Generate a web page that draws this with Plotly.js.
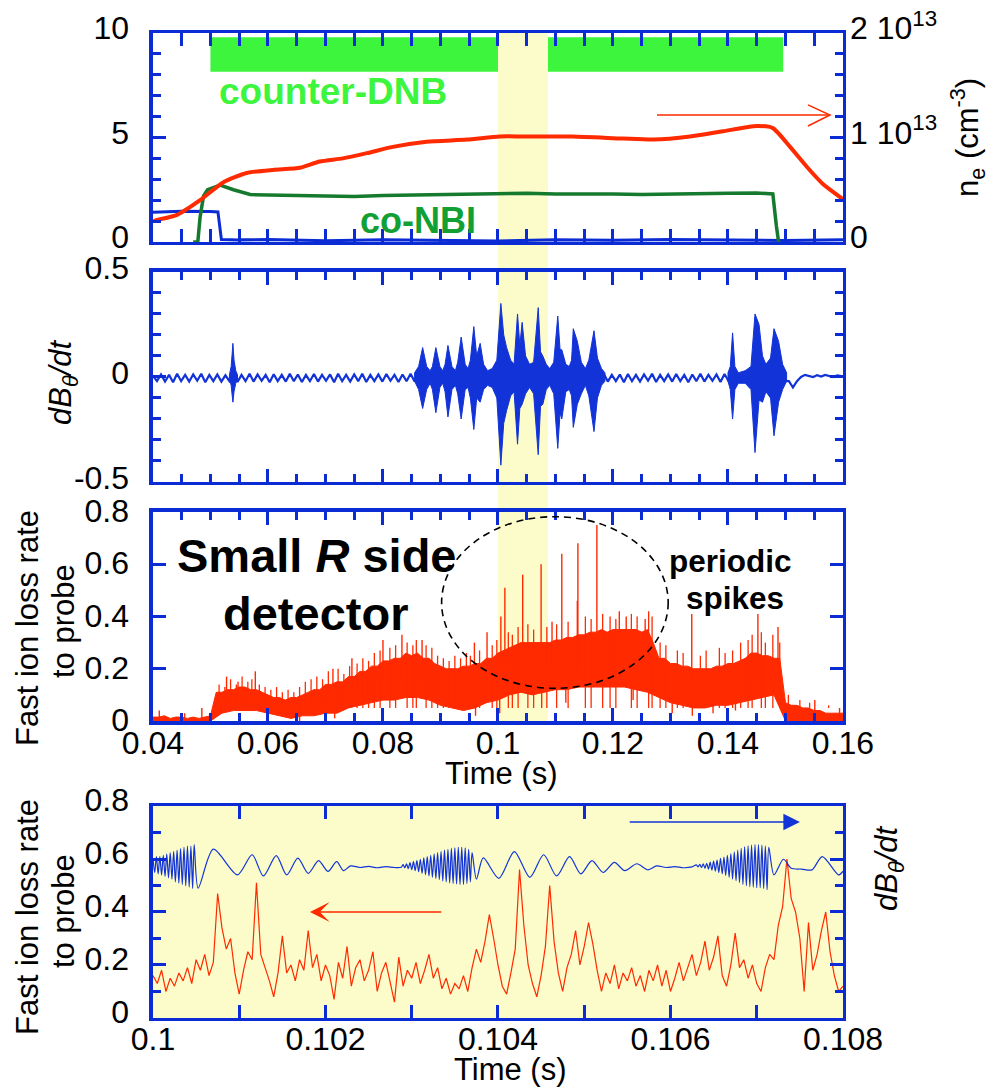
<!DOCTYPE html>
<html><head><meta charset="utf-8">
<script src="https://cdn.plot.ly/plotly-3.0.1.min.js"></script>
<style>html,body{margin:0;padding:0;background:#fff;}#chart{width:990px;height:1087px;}</style>
</head><body><div id="chart"></div>
<script>
// ---------------- DATA ----------------
// Panel 1 : beams and density
const dnbStart = [0.0500, 0.1087];
const dnbEnd   = [0.1000, 0.1496];
const dnbLevel = [8.15, 9.8];
const tBlue1 = [0.04,0.045,0.05,0.0513,0.0519,0.055,0.06,0.065,0.07,0.08,0.09,0.1,0.11,0.12,0.13,0.14,0.15,0.16];
const vBlue1 = [1.42,1.47,1.46,1.44,0.12,0.1,0.12,0.08,0.06,0.1,0.08,0.05,0.1,0.08,0.12,0.08,0.07,0.1];
const tNbi = [0.047,0.0478,0.0482,0.0488,0.0495,0.0505,0.0517,0.054,0.0569,0.06,0.065,0.07,0.075,0.08,0.085,0.09,0.095,0.1,0.105,0.11,0.115,0.12,0.125,0.13,0.135,0.14,0.145,0.1478,0.1484,0.1488];
const vNbi = [0,0,1.2,2.2,2.5,2.62,2.72,2.5,2.27,2.25,2.22,2.2,2.18,2.22,2.25,2.26,2.28,2.32,2.33,2.3,2.32,2.3,2.27,2.3,2.32,2.33,2.34,2.3,0.8,0];
const tNe = [0.0401,0.0407,0.0442,0.0482,0.0522,0.0563,0.0609,0.0656,0.069,0.073,0.0772,0.0817,0.0876,0.0946,0.1003,0.1044,0.113,0.1217,0.127,0.1334,0.1391,0.145,0.1478,0.1508,0.1537,0.1566,0.1595,0.16];
const neE13 = [0.20,0.21,0.26,0.40,0.57,0.66,0.69,0.71,0.77,0.80,0.85,0.91,0.96,0.98,1.01,1.01,1.01,0.99,0.98,1.01,1.06,1.11,1.09,0.91,0.72,0.55,0.43,0.41];

// Panel 2 : dB/dt  (baseline sampled every 0.7 ms from 0.04 s)
const dbBaseT0 = 0.04, dbBaseDt = 0.0007;
const dbBase = [
 0.005,-0.02,0.012,-0.022,0.01,-0.025,0.015,-0.02,0.01,-0.022,0.012,-0.018,0.015,-0.025,0.01,-0.02,0.012,-0.022,0.008,-0.02,
 0.012,-0.024,0.01,-0.02,0.015,-0.022,0.012,-0.018,0.01,-0.025,0.013,-0.02,0.01,-0.022,0.015,-0.02,0.012,-0.024,0.01,-0.02,
 0.014,-0.022,0.01,-0.018,0.012,-0.025,0.015,-0.02,0.01,-0.022,0.012,-0.02,0.015,-0.024,0.01,-0.02,0.012,-0.022,0.014,-0.018,
 0.01,-0.024,0.012,-0.02,0.015,-0.022,0.01,-0.02,0.012,-0.025,0.014,-0.02,0.01,-0.022,0.012,-0.018,0.015,-0.024,0.01,-0.02,
 0.012,-0.022,0.015,-0.02,0.01,-0.025,0.012,-0.02,0.014,-0.022,0.01,-0.018,0.012,-0.024,0.015,-0.02,0.01,-0.022,0.012,-0.02,
 0.015,-0.025,0.01,-0.02,0.012,-0.022,0.014,-0.018,0.01,-0.024,0.012,-0.02,0.015,-0.022,0.01,-0.02,0.012,-0.025,0.014,-0.02,
 0.01,-0.022,0.012,-0.018,0.015,-0.024,0.01,-0.02,0.012,-0.022,0.014,-0.02,0.01,-0.025,0.012,-0.02,0.015,-0.022,0.01,-0.018,
 0.012,-0.024,0.014,-0.02,0.01,-0.022,0.012,-0.02,0.015,-0.025,0.01,-0.02,0.012,-0.022,0.014,-0.018,0.01,-0.02,-0.02,-0.05,
 -0.02,0.0,0.01,0.004,0.0,0.008,0.002,0.01,0.004,0.0,0.008,0.004];
// burst envelopes (groups separated by null)
const burstT = [
 0.0533,0.0536,0.0538,0.0539,0.0541,0.0544,0.0547, null,
 0.0855,0.0862,0.0869,0.0876,0.0882,0.0886,0.0892,0.0899,0.0904,0.0908,0.0913,0.0920,0.0926,0.0930,0.0936,0.0943,0.0948,0.0952,0.0958,0.0963,0.0969,0.0975,0.0982,0.0990,0.0998,0.1005,0.1010,0.1015,0.1022,0.1028,0.1034,0.1038,0.1042,0.1048,0.1055,0.1062,0.1070,0.1074,0.1078,0.1084,0.1090,0.1097,0.1104,0.1108,0.1111,0.1118,0.1124,0.1128,0.1131,0.1138,0.1145,0.1152,0.1158,0.1167,0.1173,0.1180,0.1186, null,
 0.1400,0.1404,0.1408,0.1412,0.1418,0.1430,0.1440,0.1447,0.1454,0.1460,0.1466,0.1474,0.1480,0.1488,0.1495,0.1502];
const burstHi = [
 0.01,0.05,0.12,0.16,0.08,0.03,0.01, null,
 0.02,0.05,0.14,0.05,0.03,0.05,0.14,0.05,0.03,0.06,0.15,0.05,0.03,0.07,0.19,0.06,0.04,0.08,0.24,0.10,0.16,0.06,0.03,0.04,0.08,0.35,0.20,0.14,0.08,0.06,0.30,0.15,0.26,0.10,0.06,0.07,0.33,0.12,0.10,0.06,0.04,0.07,0.29,0.13,0.13,0.06,0.05,0.08,0.23,0.17,0.07,0.04,0.08,0.22,0.09,0.04,0.02, null,
 0.02,0.05,0.21,0.05,0.02,0.03,0.05,0.30,0.25,0.10,0.06,0.09,0.23,0.17,0.06,0.02];
const burstLo = [
 -0.01,-0.04,-0.09,-0.12,-0.07,-0.03,-0.01, null,
 -0.02,-0.06,-0.15,-0.06,-0.03,-0.06,-0.17,-0.05,-0.03,-0.07,-0.19,-0.06,-0.04,-0.08,-0.20,-0.06,-0.05,-0.10,-0.25,-0.10,-0.12,-0.06,-0.04,-0.05,-0.10,-0.42,-0.22,-0.16,-0.09,-0.07,-0.32,-0.15,-0.13,-0.08,-0.05,-0.08,-0.37,-0.14,-0.13,-0.06,-0.04,-0.08,-0.34,-0.17,-0.20,-0.07,-0.06,-0.09,-0.24,-0.13,-0.08,-0.04,-0.09,-0.26,-0.10,-0.04,-0.02, null,
 -0.02,-0.06,-0.20,-0.06,-0.03,-0.03,-0.06,-0.36,-0.11,-0.12,-0.07,-0.10,-0.28,-0.12,-0.06,-0.02];

// Panel 3 : fast ion loss (envelopes + spikes)
const lossUpT0 = 0.04, lossUpDt = 0.001;
const lossUpper = [
 0.015,0.015,0.02,0.01,0.015,0.015,0.01,0.015,0.01,0.015,
 0.02,0.11,0.11,0.12,0.12,0.13,0.13,0.12,0.12,0.11,
 0.10,0.09,0.09,0.08,0.09,0.09,0.10,0.11,0.12,0.12,
 0.14,0.14,0.15,0.15,0.17,0.17,0.19,0.19,0.21,0.21,
 0.23,0.23,0.24,0.24,0.26,0.25,0.26,0.24,0.24,0.22,
 0.21,0.20,0.20,0.20,0.21,0.21,0.22,0.22,0.24,0.24,
 0.26,0.27,0.28,0.29,0.30,0.30,0.30,0.30,0.30,0.30,
 0.31,0.31,0.32,0.32,0.33,0.33,0.34,0.34,0.35,0.34,
 0.35,0.35,0.35,0.35,0.35,0.34,0.35,0.30,0.24,0.24,
 0.22,0.22,0.21,0.21,0.20,0.20,0.20,0.20,0.21,0.21,
 0.22,0.22,0.23,0.24,0.26,0.26,0.25,0.25,0.24,0.24,
 0.07,0.06,0.06,0.05,0.05,0.04,0.04,0.03,0.03,0.03,0.03];
const lossLoT0 = 0.04, lossLoDt = 0.002;
const lossLower = [
 0,0,0,0,0,0,0.03,0.04,0.04,0.04,
 0.03,0.02,0.01,0.02,0.02,0.03,0.03,0.05,0.06,0.07,
 0.08,0.08,0.09,0.09,0.08,0.06,0.05,0.04,0.05,0.07,
 0.08,0.10,0.11,0.10,0.11,0.12,0.12,0.13,0.13,0.13,
 0.13,0.13,0.12,0.11,0.09,0.07,0.06,0.05,0.05,0.06,
 0.06,0.07,0.08,0.09,0.10,0,0,0,0,0,0];
// tall spikes and downward dips
const spikeT    = [0.0411,0.0455,0.0485,0.0528,0.0548,0.0578,0.0713,0.0746,0.0800,0.0833,0.0868,0.0959,0.0981,0.1005,0.1012,0.1043,0.1075,0.1094,0.1111,0.1138,0.1139,0.1172,0.1211,0.1223,0.1256,0.1337,0.1452,0.1487,0.1551,0.1594,
                   0.0598,0.0655,0.0716,0.0961,0.1003,0.1076,0.1118,0.1235,0.1303,0.1338,0.1374,0.1413];
const spikeFrom = [0,0,0,0.08,0.08,0.08,0.1,0.12,0.15,0.15,0.15,0.15,0.15,0.2,0.2,0.2,0.2,0.2,0.2,0.2,0.2,0.2,0.2,0.2,0.2,0.15,0.15,0.15,0.03,0.02,
                   0.05,0.05,0.05,0.08,0.10,0.12,0.13,0.14,0.08,0.07,0.07,0.08];
const spikeTo   = [0.04,0.03,0.05,0.17,0.15,0.19,0.20,0.24,0.31,0.33,0.31,0.30,0.34,0.40,0.51,0.56,0.60,0.38,0.64,0.46,0.68,0.75,0.42,0.40,0.39,0.41,0.41,0.36,0.08,0.05,
                   0.0,0.0,0.01,0.02,0.03,0.05,0.07,0.08,0.03,0.02,0.03,0.04];
// short noise hairs along the upper edge
const hairT = [0.0515,0.0525,0.0535,0.0545,0.0555,0.0565,0.0572,0.0585,0.0595,0.0605,0.0615,0.0625,0.0635,0.0645,0.0655,0.0665,0.0675,0.0685,0.0695,0.0705,
               0.0722,0.0732,0.0742,0.0755,0.0765,0.0775,0.0785,0.0795,0.0812,0.0822,0.0842,0.0852,0.0858,0.0875,0.0885,0.0895,0.0905,0.0915,0.0925,0.0935,
               0.0945,0.0952,0.0968,0.0990,0.0998,0.1018,0.1025,0.1035,0.1052,0.1062,0.1085,0.1102,0.1122,0.1152,0.1162,0.1182,0.1195,0.1205,0.1232,0.1242,
               0.1262,0.1268,0.1282,0.1292,0.1312,0.1322,0.1352,0.1362,0.1385,0.1395,0.1408,0.1422,0.1435,0.1442,0.1458,0.1465,0.1478,0.1490,0.1505,0.1525,0.1542,0.1575];
const hairTo = [0.14,0.13,0.16,0.14,0.17,0.15,0.16,0.14,0.13,0.12,0.13,0.11,0.12,0.11,0.13,0.15,0.16,0.17,0.16,0.19,
                0.20,0.18,0.21,0.22,0.24,0.23,0.26,0.27,0.28,0.29,0.30,0.29,0.31,0.29,0.28,0.25,0.24,0.23,0.25,0.24,
                0.26,0.25,0.27,0.29,0.31,0.34,0.33,0.36,0.37,0.35,0.36,0.37,0.38,0.40,0.39,0.41,0.40,0.39,0.41,0.40,
                0.42,0.40,0.30,0.29,0.27,0.26,0.25,0.27,0.28,0.26,0.27,0.30,0.31,0.33,0.34,0.30,0.33,0.30,0.10,0.08,0.07,0.06];

// Panel 4 : zoom 0.100 - 0.108 s
const loss4T0 = 0.1, loss4Dt = 0.00005;
const loss4 = [
 0.16,0.13,0.18,0.10,0.15,0.12,0.17,0.14,0.19,0.13,
 0.22,0.18,0.24,0.16,0.21,0.47,0.34,0.26,0.30,0.17,
 0.09,0.18,0.25,0.22,0.51,0.24,0.19,0.14,0.08,0.17,
 0.31,0.17,0.20,0.14,0.22,0.18,0.33,0.19,0.24,0.14,
 0.20,0.16,0.07,0.21,0.15,0.27,0.12,0.19,0.22,0.14,
 0.18,0.25,0.10,0.17,0.21,0.13,0.06,0.23,0.12,0.18,
 0.15,0.21,0.13,0.18,0.24,0.15,0.19,0.11,0.15,0.09,
 0.13,0.11,0.16,0.10,0.19,0.26,0.21,0.29,0.39,0.30,
 0.20,0.12,0.09,0.17,0.26,0.56,0.35,0.20,0.13,0.08,
 0.16,0.27,0.50,0.29,0.17,0.10,0.19,0.24,0.33,0.20,
 0.27,0.36,0.28,0.18,0.10,0.17,0.13,0.20,0.11,0.17,
 0.14,0.19,0.12,0.16,0.10,0.18,0.14,0.20,0.12,0.18,
 0.10,0.15,0.21,0.14,0.19,0.24,0.16,0.21,0.29,0.18,
 0.23,0.31,0.16,0.12,0.20,0.32,0.19,0.22,0.15,0.20,
 0.13,0.10,0.19,0.24,0.22,0.35,0.42,0.60,0.45,0.40,
 0.30,0.10,0.36,0.18,0.24,0.33,0.40,0.25,0.16,0.10,0.12];
// dB/dt in panel 4: fast bursts (sampled every 20 us) and slow wave (peaks / troughs)
const fastDt = 0.00002;
const fast1T0 = 0.1;
const fast1 = [0.03,-0.025,0.035,-0.03,0.035,-0.035,0.04,-0.04,0.045,-0.045,0.05,-0.05,0.055,-0.06,0.06,-0.065,0.065,-0.07,0.07,-0.075,0.075,-0.08,0.075,-0.085];
const slow1T = [0.100478,0.100524,0.1007,0.10098,0.10115,0.10128,0.10143,0.10155,0.10168,0.1018,0.10192,0.10203,0.10213,0.10221,0.10229,0.1024,0.1025,0.1026,0.1027,0.1028];
const slow1V = [0.08,-0.084,0.063,-0.034,0.042,-0.038,0.039,-0.034,0.029,-0.028,0.02,-0.021,0.016,-0.018,0.0,-0.006,-0.002,-0.007,-0.003,-0.006];
const fast2T0 = 0.10288;
const fast2 = [-0.005,0.005,-0.007,0.008,-0.01,0.012,-0.014,0.016,-0.018,0.02,-0.022,0.025,-0.028,0.03,-0.033,0.035,-0.038,0.04,-0.043,0.045,-0.048,0.05,-0.052,0.055,-0.057,0.06,-0.06,0.062,-0.064,0.066,-0.066,0.068,-0.068,0.07,-0.07,0.07,-0.07,0.068,-0.066,0.062,-0.06,0.05];
const slow2T = [0.10375,0.10383,0.10401,0.10419,0.10437,0.10453,0.10468,0.10483,0.10496,0.10509,0.10522,0.10535,0.10547,0.10561,0.10574,0.10584,0.10595,0.10605,0.10615,0.10625];
const slow2V = [-0.05,0.03,-0.047,0.054,-0.043,0.042,-0.038,0.035,-0.03,0.02,-0.025,0.013,-0.018,0.008,-0.015,0.0,-0.006,-0.003,-0.007,-0.004];
const fast3T0 = 0.1063;
const fast3 = [0.004,-0.004,0.006,-0.006,0.008,-0.009,0.01,-0.012,0.014,-0.016,0.018,-0.02,0.022,-0.025,0.028,-0.03,0.033,-0.036,0.04,-0.043,0.046,-0.05,0.053,-0.056,0.06,-0.063,0.066,-0.07,0.072,-0.075,0.076,-0.078,0.078,-0.08,0.08,-0.082,0.08,-0.082,0.078,-0.085,0.075,-0.09,0.07];
const slow3T = [0.1072,0.10731,0.1074,0.10752,0.10764,0.10776,0.10795,0.108];
const slow3V = [-0.034,0.025,-0.009,-0.012,-0.015,0.035,-0.034,-0.02];

// Tick labels
const tickT1 = [0.04,0.06,0.08,0.1,0.12,0.14,0.16];
const tickT1Text = ['0.04','0.06','0.08','0.1','0.12','0.14','0.16'];
const tickT4 = [0.1,0.102,0.104,0.106,0.108];
const tickT4Text = ['0.1','0.102','0.104','0.106','0.108'];
const tickLoss = [0,0.2,0.4,0.6,0.8];
const tickLossText = ['0','0.2','0.4','0.6','0.8'];

// ---------------- STYLE ----------------
const FONT = '"Liberation Sans", Arial, Helvetica, sans-serif';
const AX = '#0b2cd4', SIG = '#1233d8', RED = '#ff2a00', BAR = '#3cf53c', DKG = '#157a2e', NBI_TXT = '#12a034', YEL = '#fbfcca';
const DX = [0.1545, 0.8515];
const Y1 = [0.7774, 0.9696], Y2 = [0.5566, 0.7498], Y3 = [0.3367, 0.5290], Y4 = [0.0635, 0.2585];

// ---------------- BUILD ----------------
function seq(t0, dt, n){ const a=[]; for(let i=0;i<n;i++) a.push(+(t0+i*dt).toFixed(7)); return a; }
const dnbX=[], dnbY=[];
dnbStart.forEach((s,k)=>{ const e=dnbEnd[k]; dnbX.push(s,e,e,s,s,null); dnbY.push(dnbLevel[0],dnbLevel[0],dnbLevel[1],dnbLevel[1],dnbLevel[0],null); });
const bX=[], bY=[]; let gT=[], gH=[], gL=[];
function flush(){ if(!gT.length) return; bX.push(...gT, ...gT.slice().reverse(), gT[0], null); bY.push(...gH, ...gL.slice().reverse(), gH[0], null); gT=[];gH=[];gL=[]; }
burstT.forEach((t,i)=>{ if(t===null){flush();} else {gT.push(t); gH.push(burstHi[i]); gL.push(burstLo[i]);} }); flush();
const sX=[], sY=[];
spikeT.forEach((t,i)=>{ sX.push(t,t,null); sY.push(spikeFrom[i],spikeTo[i],null); });
const hX=[], hY=[];
hairT.forEach((t,i)=>{ hX.push(t,t,null); hY.push(Math.min(0.05,hairTo[i]),hairTo[i],null); });
const wT = [...seq(fast1T0,fastDt,fast1.length), ...slow1T, ...seq(fast2T0,fastDt,fast2.length), ...slow2T, ...seq(fast3T0,fastDt,fast3.length), ...slow3T];
const wV = [...fast1, ...slow1V, ...fast2, ...slow2V, ...fast3, ...slow3V];

const traces = [
 {x:dnbX, y:dnbY, xaxis:'x', yaxis:'y', mode:'lines', fill:'toself', fillcolor:BAR, line:{width:0,color:BAR}, hoverinfo:'skip'},
 {x:tBlue1, y:vBlue1, xaxis:'x', yaxis:'y', mode:'lines', line:{color:AX,width:3}},
 {x:tNbi, y:vNbi, xaxis:'x', yaxis:'y', mode:'lines', line:{color:DKG,width:3.5}},
 {x:tNe, y:neE13, xaxis:'x', yaxis:'y2', mode:'lines', line:{color:RED,width:4,shape:'spline',smoothing:0.6}},
 {x0:dbBaseT0, dx:dbBaseDt, y:dbBase, xaxis:'x2', yaxis:'y3', mode:'lines', line:{color:SIG,width:2.2}},
 {x:bX, y:bY, xaxis:'x2', yaxis:'y3', mode:'lines', fill:'toself', fillcolor:SIG, line:{color:SIG,width:1}},
 {x0:lossLoT0, dx:lossLoDt, y:lossLower, xaxis:'x3', yaxis:'y4', mode:'lines', line:{color:RED,width:1}},
 {x0:lossUpT0, dx:lossUpDt, y:lossUpper, xaxis:'x3', yaxis:'y4', mode:'lines', fill:'tonexty', fillcolor:RED, line:{color:RED,width:1}},
 {x:hX, y:hY, xaxis:'x3', yaxis:'y4', mode:'lines', line:{color:RED,width:1.3}},
 {x:sX, y:sY, xaxis:'x3', yaxis:'y4', mode:'lines', line:{color:RED,width:1.4}},
 {x0:loss4T0, dx:loss4Dt, y:loss4, xaxis:'x4', yaxis:'y5', mode:'lines', line:{color:RED,width:1.2}},
 {x:wT, y:wV, xaxis:'x4', yaxis:'y6', mode:'lines', line:{color:SIG,width:1.2,shape:'spline',smoothing:0.8}}
];

const TF = {family:FONT, size:32, color:'#000'};
function minor(t0,dt){ return {ticks:'inside', tickmode:'linear', tick0:t0, dtick:dt, ticklen:8, tickwidth:3, tickcolor:AX}; }
function frame(o){ return Object.assign({showline:true, linecolor:AX, linewidth:3.5, mirror:'allticks', ticks:'inside', tickcolor:AX, tickwidth:3, ticklen:13,
  showgrid:false, zeroline:false, automargin:false, fixedrange:true, tickfont:TF, tickmode:'array'}, o); }
function lbl(x, y, text, size, angle, extra){ return Object.assign({xref:'paper', yref:'paper', x:x/990, y:1-y/1087, text:text, showarrow:false,
  xanchor:'center', yanchor:'middle', textangle:angle||0, font:{family:FONT,size:size,color:'#000'}}, extra||{}); }
function note(xr, yr, x, y, text, size, color){ return {xref:xr, yref:yr, x:x, y:y, text:text, showarrow:false, xanchor:'center', yanchor:'middle', font:{family:FONT,size:size,color:color}}; }

const layout = {
 width:990, height:1087, margin:{l:0,r:0,t:0,b:0}, paper_bgcolor:'#fff', plot_bgcolor:'rgba(0,0,0,0)', showlegend:false,
 font:{family:FONT, color:'#000'},
 xaxis: frame({domain:DX, range:[0.04,0.16], anchor:'y', tickvals:tickT1, showticklabels:false, minor:minor(0.04,0.005)}),
 yaxis: frame({domain:Y1, range:[0,10], anchor:'x', tickvals:[0,5,10], ticktext:['0','5','10'], ticklabelstandoff:14, ticklabelshift:-5, minor:minor(0,1)}),
 yaxis2:{overlaying:'y', side:'right', anchor:'x', range:[0,2], tickmode:'array', tickvals:[0,1,2], ticktext:['0','1 10<sup>13</sup>','2 10<sup>13</sup>'],
   ticks:'', showline:false, showgrid:false, zeroline:false, tickfont:TF, ticklabelstandoff:6, ticklabelshift:-5, automargin:false, fixedrange:true},
 xaxis2: frame({domain:DX, range:[0.04,0.16], anchor:'y3', tickvals:tickT1, showticklabels:false, minor:minor(0.04,0.005)}),
 yaxis3: frame({domain:Y2, range:[-0.5,0.5], anchor:'x2', tickvals:[-0.5,0,0.5], ticktext:['-0.5','0','0.5'], ticklabelstandoff:14, ticklabelshift:-4, minor:minor(-0.5,0.1)}),
 xaxis3: frame({domain:DX, range:[0.04,0.16], anchor:'y4', tickvals:tickT1, ticktext:tickT1Text, ticklabelstandoff:-9, minor:minor(0.04,0.005)}),
 yaxis4: frame({domain:Y3, range:[0,0.8], anchor:'x3', tickvals:tickLoss, ticktext:tickLossText, ticklabelstandoff:14, ticklabelshift:-1}),
 xaxis4: frame({domain:DX, range:[0.1,0.108], anchor:'y5', tickvals:tickT4, ticktext:tickT4Text, ticklabelstandoff:-10, minor:minor(0.1,0.001)}),
 yaxis5: frame({domain:Y4, range:[0,0.8], anchor:'x4', tickvals:tickLoss, ticktext:tickLossText, ticklabelstandoff:14, ticklabelshift:-6, minor:minor(0,0.1)}),
 yaxis6: {overlaying:'y5', side:'right', anchor:'x4', range:[-0.574,0.226], showticklabels:false, ticks:'', showline:false, showgrid:false, zeroline:false, fixedrange:true, automargin:false},
 shapes: [
  {type:'rect', xref:'x', yref:'paper', x0:0.1, x1:0.1087, y0:Y3[0], y1:Y1[1], fillcolor:YEL, line:{width:0}, layer:'below'},
  {type:'rect', xref:'x4 domain', yref:'y5 domain', x0:0, x1:1, y0:0, y1:1, fillcolor:YEL, line:{width:0}, layer:'below'},
  {type:'circle', xref:'x3', yref:'y4', x0:0.0902, x1:0.1296, y0:0.125, y1:0.782, line:{color:'#000', width:1.6, dash:'7px,5px'}},
  {type:'line', xref:'x', yref:'y', x0:0.12765, x1:0.15774, y0:6.08, y1:6.08, line:{color:RED, width:1.5}},
  {type:'path', xref:'x', yref:'y', path:'M0.15391,6.56 L0.15774,6.08 L0.15391,5.55', line:{color:RED, width:1.5}}
 ],
 annotations: [
  note('x','y',0.0713,7.18,'<b>counter-DNB</b>',37,BAR),
  note('x','y',0.0861,1.05,'<b>co-NBI</b>',36,NBI_TXT),
  note('x3','y4',0.0685,0.635,'<b>Small <i>R</i> side</b>',47,'#000'),
  note('x3','y4',0.0683,0.413,'<b>detector</b>',47,'#000'),
  note('x3','y4',0.1405,0.612,'<b>periodic</b>',31.5,'#000'),
  note('x3','y4',0.1412,0.47,'<b>spikes</b>',31.5,'#000'),
  lbl(968,138,'n<sub>e</sub> (cm<sup>-3</sup>)',31,-90),
  lbl(63,382,'<i>dB<sub>θ</sub>/dt</i>',31,-90),
  lbl(27,628,'Fast ion loss rate',31,-90),
  lbl(63,621,'to probe',31,-90),
  lbl(501,773,'Time (s)',31,0),
  lbl(27,917,'Fast ion loss rate',31,-90),
  lbl(63,911,'to probe',31,-90),
  lbl(889,868,'<i>dB<sub>θ</sub>/dt</i>',31,-90),
  lbl(510,1069,'Time (s)',31,0),
  {xref:'x4', yref:'y5', axref:'x4', ayref:'y5', x:0.1075, y:0.74, ax:0.10551, ay:0.74, text:'', showarrow:true, arrowhead:2, arrowsize:2.2, arrowwidth:1.5, arrowcolor:SIG},
  {xref:'x4', yref:'y5', axref:'x4', ayref:'y5', x:0.10182, y:0.40, ax:0.10336, ay:0.40, text:'', showarrow:true, arrowhead:3, arrowsize:2.2, arrowwidth:1.5, arrowcolor:RED}
 ]
};
Plotly.newPlot('chart', traces, layout, {staticPlot:true, displayModeBar:false});
</script></body></html>
